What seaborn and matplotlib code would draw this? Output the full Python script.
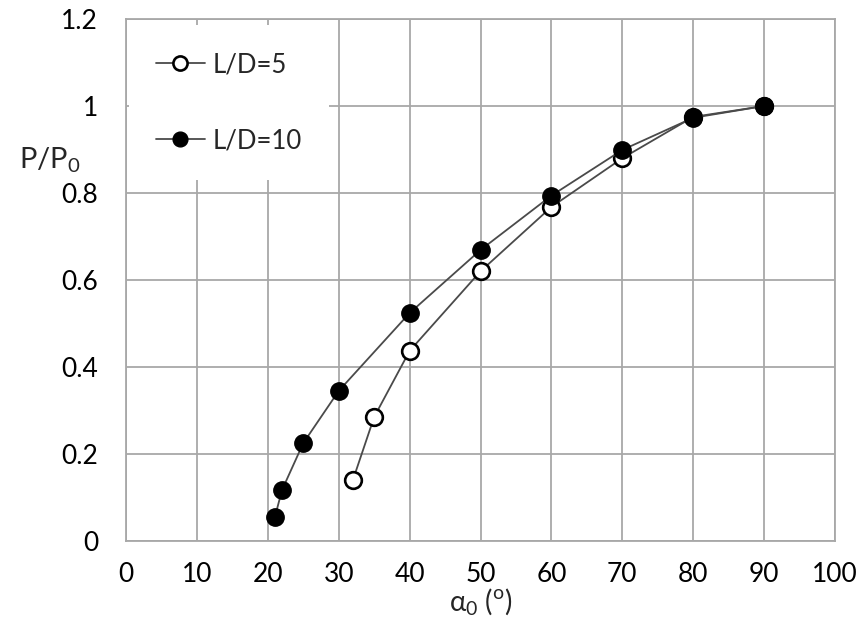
import numpy as np
import pandas as pd
import matplotlib
matplotlib.use('Agg')
import matplotlib.pyplot as plt
import seaborn as sns
from matplotlib.ticker import FormatStrFormatter

# values
alpha_ld5 = [32, 35, 40, 50, 60, 70, 80, 90]
p_ld5 = [0.14, 0.285, 0.437, 0.62, 0.768, 0.88, 0.975, 1.0]

alpha_ld10 = [21, 22, 25, 30, 40, 50, 60, 70, 80, 90]
p_ld10 = [0.055, 0.117, 0.225, 0.345, 0.524, 0.669, 0.794, 0.899, 0.973, 1.0]

series_labels = ['L/D=5', 'L/D=10']
x_ticks = list(range(0, 101, 10))
y_ticks = [0, 0.2, 0.4, 0.6, 0.8, 1.0, 1.2]

sns.set_style('white')
plt.rcParams['font.family'] = ['Lato', 'DejaVu Sans']
plt.rcParams['mathtext.fontset'] = 'custom'
plt.rcParams['mathtext.rm'] = 'Lato'

grid_col = '#a8a8a8'

fig = plt.figure(figsize=(8.66, 6.41), dpi=100)
ax = fig.add_axes([0.1455, 0.156, 0.8187, 0.8143])

sns.lineplot(x=alpha_ld5, y=p_ld5, ax=ax, color='#4a4a4a', lw=1.3,
             marker='o', markersize=12, markerfacecolor='white',
             markeredgecolor='black', markeredgewidth=1.9,
             label=series_labels[0], zorder=3)
sns.lineplot(x=alpha_ld10, y=p_ld10, ax=ax, color='#4a4a4a', lw=1.3,
             marker='o', markersize=12.5, markerfacecolor='black',
             markeredgecolor='black', markeredgewidth=1.0,
             label=series_labels[1], zorder=4)

ax.set_xlim(0, 100)
ax.set_ylim(0, 1.2)
ax.set_xticks(x_ticks)
ax.set_yticks(y_ticks)
ax.yaxis.set_major_formatter(FormatStrFormatter('%g'))
ax.grid(True, color=grid_col, lw=1.3)
ax.set_axisbelow(True)
for sp in ax.spines.values():
    sp.set_color(grid_col)
    sp.set_linewidth(1.3)
ax.tick_params(axis='both', length=0, labelsize=19, colors='black')
ax.tick_params(axis='y', pad=20)
ax.tick_params(axis='x', pad=15)

ax.set_xlabel(r'α$_\mathregular{0}$ ($^\mathregular{o}$)', fontsize=20, labelpad=0)
ax.set_ylabel(r'P/P$_\mathregular{0}$', fontsize=21, rotation=0, ha='center', va='center')
ax.yaxis.set_label_coords(-0.107, 0.73)

leg = ax.legend(loc='upper left', bbox_to_anchor=(0.004, 0.9885), fontsize=18.5,
                frameon=True, facecolor='white', edgecolor='none', framealpha=1,
                fancybox=False, markerscale=0.85, handlelength=1.9,
                handletextpad=0.3, labelspacing=2.0, borderpad=1.05,
                borderaxespad=0)
leg.set_zorder(5)

fig.savefig('out.png', dpi=100)
